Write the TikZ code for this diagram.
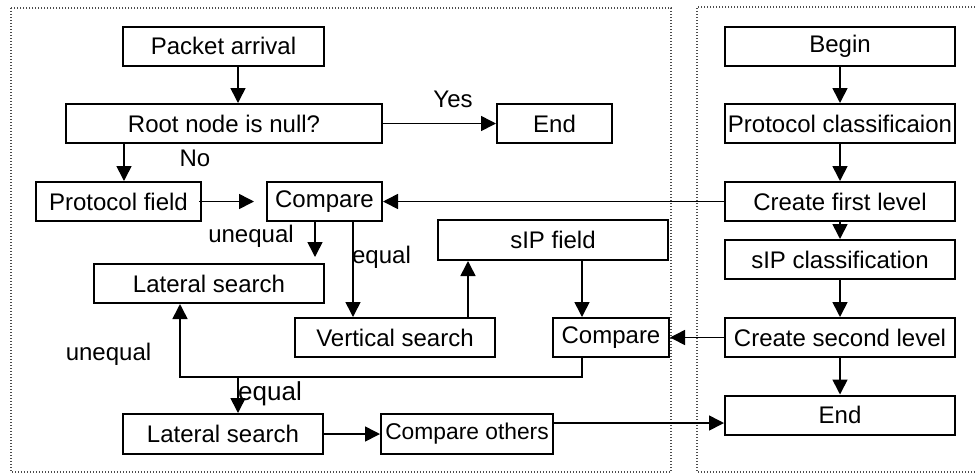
\documentclass[tikz,border=0pt]{standalone}
\usepackage{fontspec}
\setmainfont{Liberation Sans}
\usepackage{tikz}
\usetikzlibrary{arrows.meta,calc,positioning}
\tikzset{>={Triangle[length=7.5pt,width=7.5pt]}}
\tikzset{
  box/.style={draw,line width=1pt,inner sep=0pt,minimum height=19.5pt,font=\fontsize{12}{14}\selectfont},
  lbl/.style={anchor=base,inner sep=0pt,font=\fontsize{12}{14}\selectfont},
  arr/.style={line width=0.8pt,->},
  frame/.style={dash pattern=on 0.6pt off 0.9pt,line width=0.6pt,black!70}
}

\begin{document}
\begin{tikzpicture}[x=0.5pt,y=-0.5pt]
                \useasboundingbox (0,0) rectangle (975,473);
                % the two dotted frames
                \draw[frame] (11,8) rectangle (671,472);
                \draw[frame] (975,7) -- (697,7) -- (697,472) -- (975,472);
                % search side
                \node[box,minimum width=100.5pt] (pkt) at (223.5,46) {Packet arrival};
                \node[box,minimum width=158pt] (root) at (224,123.5) {Root node is null?};
                \node[box,minimum width=57.5pt] (end1) at (554.5,123.5) {End};
                \node[box,minimum width=82.5pt] (pfield) at (118.5,201.5) {Protocol field};
                \node[box,minimum width=57.5pt] (cmp1) at (324.5,201.5) {Compare};
                \node[box,minimum width=115pt] (lat1) at (209,283.5) {Lateral search};
                \node[box,minimum width=100pt] (vert) at (395,337.5) {Vertical search};
                \node[box,minimum width=115pt,minimum height=20pt] (sip) at (553,240) {sIP field};
                \node[box,minimum width=58pt] (cmp2) at (611,337.5) {Compare};
                \node[box,minimum width=100pt,minimum height=20pt] (lat2) at (223,434) {Lateral search};
                \node[box,minimum width=86pt,minimum height=20pt,font=\fontsize{11.4}{14}\selectfont] (cmpo) at (467,434) {Compare others};
                % building side
                \node[box,minimum width=115pt] (begin) at (840,46) {Begin};
                \node[box,minimum width=115pt] (pclass) at (840,123.5) {Protocol classificaion};
                \node[box,minimum width=115pt] (cfirst) at (840,201.5) {Create first level};
                \node[box,minimum width=115pt] (sipc) at (840,259.5) {sIP classification};
                \node[box,minimum width=115pt] (csecond) at (840,337.5) {Create second level};
                \node[box,minimum width=115pt] (end2) at (840,415) {End};
                \foreach \a/\b in {begin/pclass,pclass/cfirst,cfirst/sipc,sipc/csecond,csecond/end2}
                    \draw[arr] (\a.south) -- (\b.north);
                % connectors
                \path ($(pkt.south)+(14.5,0)$) coordinate (p1);
                \draw[arr] (p1) -- (p1 |- root.north);
                \draw[arr] (root.east) -- (end1.west);
                \node[lbl] (yes) at (453,107) {Yes};
                \path ($(pfield.north)+(5.5,0)$) coordinate (p2);
                \draw[arr] (p2 |- root.south) -- (p2);
                \node[lbl] (no) at (195,166) {No};
                \draw[arr] ([xshift=-1.5pt]pfield.east) -- ([xshift=-6pt]cmp1.west);
                \draw[arr] (cfirst.west) -- (cmp1.east);
                \path ($(cmp1.south)+(-9.5,0)$) coordinate (u1);
                \draw[arr] (u1) -- ($(u1 |- lat1.north)+(0,-6)$);
                \node[lbl] (uneq1) at (251,242) {unequal};
                \path ($(cmp1.south)+(28.5,0)$) coordinate (e1);
                \draw[arr] (e1) -- (e1 |- vert.north);
                \node[lbl] (eq1) at (381.5,263) {equal};
                \path ($(vert.north)+(73,0)$) coordinate (v1);
                \draw[arr] (v1) -- (v1 |- sip.south);
                \path ($(sip.south)+(29,0)$) coordinate (s1);
                \draw[arr] (s1) -- (s1 |- cmp2.north);
                \draw[arr] (csecond.west) -- (cmp2.east);
                \coordinate (j) at ($(lat1.south)+(-29,73)$);
                \draw[arr] ($(cmp2.south)+(-29,0)$) |- (j) -- ($(lat1.south)+(-29,0)$);
                \node[lbl] (uneq2) at (108.5,360) {unequal};
                \path ($(lat2.north)+(15,0)$) coordinate (k);
                \draw[arr] (k |- j) -- (k);
                \node[lbl,font=\fontsize{13}{15}\selectfont] (eq2) at (270,400) {equal};
                \draw[arr] (lat2.east) -- (cmpo.west);
                \path ($(cmpo.east)+(0,-11)$) coordinate (m);
                \draw[arr] (m) -- (m -| end2.west);
            \end{tikzpicture}
\end{document}
